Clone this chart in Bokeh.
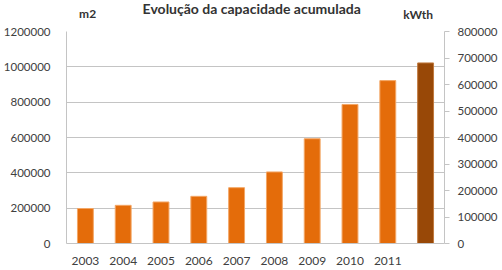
from bokeh.plotting import figure
from bokeh.layouts import column
from bokeh.models import Range1d, LinearAxis, SingleIntervalTicker, NumeralTickFormatter, ColumnDataSource
from bokeh.core.properties import value
from bokeh.embed import file_html
from bokeh.resources import INLINE

years = ["2003", "2004", "2005", "2006", "2007", "2008", "2009", "2010", "2011", ""]
area_m2 = [198000, 216000, 235000, 267000, 316000, 405000, 593000, 787000, 922000, 1022000]
bar_colors = ["#E46C0A"] * 9 + ["#984807"]
edge_colors = ["#F3A766"] * 9 + ["#C07A3E"]
title_text = "Evolução da capacidade acumulada"
left_unit = "m2"
right_unit = "kWth"

FONT = "Lato"
TXT = "#404040"
GRID = "#C4C4C4"

# --- header strip with title and unit labels ---
h = figure(width=502, height=25, x_range=Range1d(0, 502), y_range=Range1d(25, 0),
           output_backend="svg", toolbar_location=None,
           min_border_left=0, min_border_right=0, min_border_top=0, min_border_bottom=0)
h.axis.visible = False
h.grid.visible = False
h.outline_line_color = None
h.text(x=[246], y=[8], text=[title_text], text_font=value(FONT), text_font_style="bold",
       text_font_size="14px", text_color="#333333", text_align="center", text_baseline="middle")
h.text(x=[28, 467], y=[13, 14], text=[left_unit, right_unit], text_font=value(FONT),
       text_font_style="bold", text_font_size="12px", text_color="#333333",
       text_align="center", text_baseline="middle")

# --- main chart ---
src = ColumnDataSource(dict(x=years, y=area_m2, c=bar_colors, e=edge_colors))

p = figure(width=502, height=245, x_range=years, y_range=Range1d(0, 1200000),
           output_backend="svg", toolbar_location=None,
           min_border_left=55, min_border_right=58, min_border_top=6, min_border_bottom=27)
p.outline_line_color = None

p.vbar(x="x", top="y", width=0.42, fill_color="c", line_color="e", line_width=1, source=src)

p.extra_y_ranges = {"kwth": Range1d(0, 800000)}

ya = p.yaxis[0]
ya.ticker = SingleIntervalTicker(interval=200000)
ya.formatter = NumeralTickFormatter(format="0")
ya.major_tick_line_color = None
ya.minor_tick_line_color = None
ya.axis_line_color = GRID
ya.major_label_text_font = FONT
ya.major_label_text_font_size = "11.5px"
ya.major_label_text_color = TXT
ya.major_label_standoff = 10

ra = LinearAxis(y_range_name="kwth", ticker=SingleIntervalTicker(interval=100000),
                formatter=NumeralTickFormatter(format="0"))
ra.major_tick_in = 0
ra.major_tick_out = 5
ra.major_tick_line_color = GRID
ra.minor_tick_line_color = None
ra.axis_line_color = GRID
ra.major_label_text_font = FONT
ra.major_label_text_font_size = "11.5px"
ra.major_label_text_color = TXT
ra.major_label_standoff = 8
p.add_layout(ra, "right")

xa = p.xaxis[0]
xa.major_tick_line_color = None
xa.minor_tick_line_color = None
xa.axis_line_color = GRID
xa.major_label_text_font = FONT
xa.major_label_text_font_size = "12px"
xa.major_label_text_color = TXT
xa.major_label_standoff = 7

p.xgrid.grid_line_color = None
p.ygrid.grid_line_color = GRID
p.ygrid.ticker = SingleIntervalTicker(interval=200000)

layout = column(h, p, spacing=0)
open("out.html", "w").write(file_html(layout, INLINE))
